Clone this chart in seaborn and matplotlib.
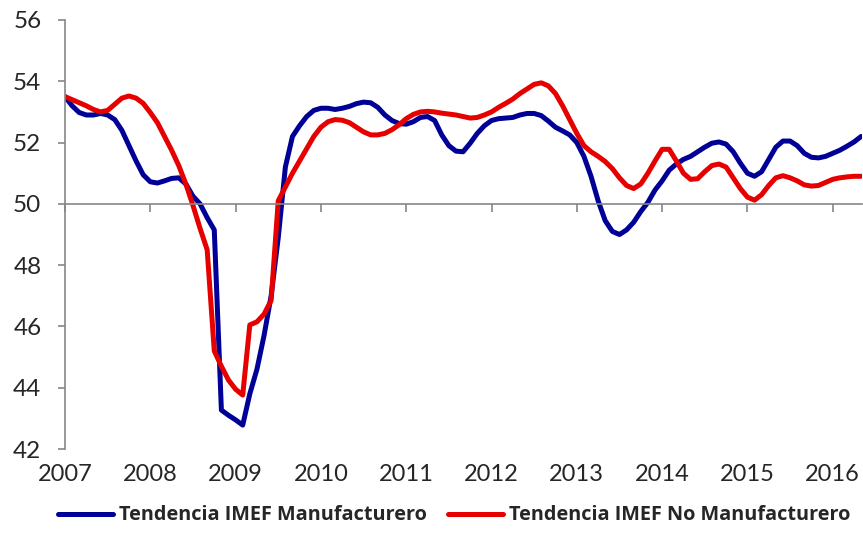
import numpy as np
import pandas as pd
import matplotlib
matplotlib.use("Agg")
import matplotlib.pyplot as plt
import seaborn as sns

# Monthly trend values, Jan 2007 - May 2016
start_year = 2007
manufacturero = [
    53.50, 53.20, 52.98, 52.90, 52.90, 52.95, 52.90, 52.75, 52.40, 51.90,
    51.40, 50.95, 50.72, 50.68, 50.75, 50.83, 50.85, 50.65, 50.25, 50.00,
    49.55, 49.15, 43.27, 43.10, 42.95, 42.78, 43.80, 44.60, 45.70, 47.00,
    48.90, 51.20, 52.20, 52.55, 52.85, 53.05, 53.12, 53.12, 53.08, 53.12,
    53.18, 53.27, 53.32, 53.30, 53.15, 52.90, 52.72, 52.62, 52.60, 52.68,
    52.82, 52.85, 52.72, 52.25, 51.90, 51.72, 51.70, 51.98, 52.30, 52.55,
    52.72, 52.78, 52.80, 52.82, 52.90, 52.95, 52.95, 52.88, 52.70, 52.50,
    52.38, 52.25, 52.00, 51.55, 50.90, 50.10, 49.45, 49.10, 49.00, 49.15,
    49.40, 49.75, 50.05, 50.45, 50.75, 51.10, 51.30, 51.45, 51.55, 51.70,
    51.85, 51.98, 52.02, 51.95, 51.70, 51.33, 51.00, 50.90, 51.05, 51.45,
    51.85, 52.05, 52.05, 51.90, 51.65, 51.52, 51.50, 51.55, 51.65, 51.75,
    51.88, 52.02, 52.20,
]
no_manufacturero = [
    53.50, 53.40, 53.30, 53.20, 53.08, 53.00, 53.05, 53.25, 53.45, 53.52,
    53.45, 53.28, 52.98, 52.65, 52.20, 51.75, 51.25, 50.65, 49.95, 49.20,
    48.50, 45.20, 44.70, 44.25, 43.95, 43.76, 46.05, 46.15, 46.40, 46.85,
    50.10, 50.55, 51.00, 51.40, 51.80, 52.20, 52.50, 52.68, 52.75, 52.73,
    52.65, 52.50, 52.35, 52.25, 52.25, 52.30, 52.42, 52.58, 52.78, 52.92,
    53.00, 53.02, 53.00, 52.96, 52.93, 52.90, 52.85, 52.80, 52.82, 52.90,
    53.00, 53.15, 53.28, 53.42, 53.60, 53.75, 53.90, 53.95, 53.85, 53.60,
    53.20, 52.75, 52.30, 51.90, 51.70, 51.55, 51.38, 51.15, 50.85, 50.60,
    50.50, 50.65, 51.00, 51.40, 51.78, 51.78, 51.40, 51.00, 50.80, 50.82,
    51.05, 51.25, 51.30, 51.20, 50.85, 50.50, 50.22, 50.12, 50.30, 50.60,
    50.85, 50.92, 50.85, 50.75, 50.62, 50.58, 50.60, 50.70, 50.80, 50.85,
    50.88, 50.90, 50.90,
]
series_names = ["Tendencia IMEF Manufacturero", "Tendencia IMEF No Manufacturero"]
year_ticks = list(range(2007, 2017))
y_ticks = list(range(42, 57, 2))

n = len(manufacturero)
fecha = start_year + np.arange(n) / 12.0
df = pd.DataFrame({
    "fecha": np.concatenate([fecha, fecha]),
    "valor": manufacturero + no_manufacturero,
    "serie": [series_names[0]] * n + [series_names[1]] * n,
})

sns.set_style("white")
plt.rcParams["font.family"] = ["Lato", "DejaVu Sans"]

fig = plt.figure(figsize=(8.63, 5.5), dpi=100)
ax = fig.add_axes([65 / 863, 1 - 449 / 550, 797 / 863, 429 / 550])

sns.lineplot(data=df, x="fecha", y="valor", hue="serie",
             palette=["#000096", "#E60000"], linewidth=3.6, ax=ax)

gray = "#868686"
ax.set_xlim(fecha[0], fecha[-1] + 0.01)
ax.set_ylim(42, 56)
ax.set_yticks(y_ticks)
ax.set_xticks(year_ticks)
ax.set_xlabel("")
ax.set_ylabel("")

for side in ["top", "right"]:
    ax.spines[side].set_visible(False)
ax.spines["left"].set_color(gray)
ax.spines["bottom"].set_color(gray)
ax.spines["bottom"].set_position(("data", 50))
ax.spines["left"].set_linewidth(1.2)
ax.spines["bottom"].set_linewidth(1.2)

ax.tick_params(axis="y", direction="out", length=5, color=gray, width=1.2,
               labelsize=17.5, pad=12, left=True)
ax.tick_params(axis="x", direction="out", length=6, color=gray, width=1.2,
               labelbottom=False, bottom=True)

# year labels at the bottom of the plot area
sec = ax.secondary_xaxis(0)
sec.set_xticks(year_ticks)
sec.tick_params(length=0, labelsize=17, pad=11)
sec.spines["bottom"].set_visible(False)

leg = ax.legend(loc="upper left", bbox_to_anchor=(-0.031, -0.09), ncol=2,
                frameon=False, handlelength=2.75, handletextpad=0.3,
                columnspacing=1.1,
                prop={"family": "Open Sans", "weight": "bold", "size": 14.3})
for line in leg.get_lines():
    line.set_linewidth(3.6)

fig.savefig("out.png", dpi=100)
